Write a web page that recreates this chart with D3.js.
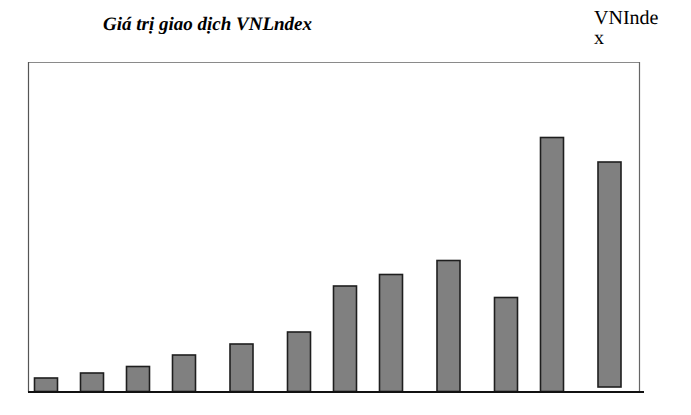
<!DOCTYPE html>
<html>
<head>
<meta charset="utf-8">
<script src="https://cdn.jsdelivr.net/npm/d3@7"></script>
<style>
  html, body { margin: 0; padding: 0; background: #fff; }
  svg { display: block; }
  text { text-rendering: geometricPrecision; }
</style>
</head>
<body>
<div id="chart"></div>
<script>
// ---- data ----
const title = "Giá trị giao dịch VNLndex";
const legendLines = ["VNInde", "x"];
const periods = [4, 8, 12, 16, 21, 26, 30, 34, 39, 44, 48, 53];
const values = [13.5, 18.5, 25, 36.5, 47.5, 59.5, 105.5, 117, 131, 94, 254, 225];
const bases  = [0, 0, 0, 0, 0, 0, 0, 0, 0, 0, 0, 4.5];

const W = 691, H = 415;
const svg = d3.select("#chart").append("svg")
  .attr("width", W).attr("height", H);

const frame = { left: 28.5, right: 639.5, top: 62, bottom: 392 };

const x = d3.scaleLinear().domain([0, 60]).range([0, 690]);
const y = d3.scaleLinear().domain([0, 330]).range([frame.bottom - 0.5, frame.bottom - 330.5]);
const barW = 23;
const serif = "'Liberation Serif', 'Times New Roman', Times, serif";

// frame
svg.append("line")
  .attr("x1", frame.left).attr("x2", frame.right)
  .attr("y1", frame.top + 0.5).attr("y2", frame.top + 0.5)
  .attr("stroke", "#8a8a8a").attr("stroke-width", 1);
svg.append("line")
  .attr("x1", frame.left).attr("x2", frame.left)
  .attr("y1", frame.top).attr("y2", frame.bottom)
  .attr("stroke", "#555").attr("stroke-width", 1.2);
svg.append("line")
  .attr("x1", frame.right).attr("x2", frame.right)
  .attr("y1", frame.top).attr("y2", frame.bottom)
  .attr("stroke", "#666").attr("stroke-width", 1.2);

// bars
const data = periods.map((p, i) => ({ p, v: values[i], b: bases[i] }));
svg.append("g").selectAll("rect").data(data).join("rect")
  .attr("x", d => x(d.p) - barW / 2)
  .attr("width", barW)
  .attr("y", d => y(d.b + d.v))
  .attr("height", d => y(d.b) - y(d.b + d.v))
  .attr("fill", "#808080")
  .attr("stroke", "#1e1e1e")
  .attr("stroke-width", 1.6);

// bottom axis line
svg.append("line")
  .attr("x1", frame.left - 0.5).attr("x2", 644)
  .attr("y1", frame.bottom).attr("y2", frame.bottom)
  .attr("stroke", "#111").attr("stroke-width", 1.8);

// title
svg.append("text")
  .attr("x", 103).attr("y", 30)
  .style("font-family", serif)
  .attr("font-weight", "bold").attr("font-style", "italic")
  .attr("font-size", 19)
  .attr("fill", "#000")
  .text(title);

// legend-like label
const lg = svg.append("text")
  .style("font-family", serif)
  .attr("font-size", 20)
  .attr("fill", "#000");
lg.selectAll("tspan").data(legendLines).join("tspan")
  .attr("x", 594)
  .attr("y", (d, i) => 23.5 + i * 20.5)
  .text(d => d);
</script>
</body>
</html>
